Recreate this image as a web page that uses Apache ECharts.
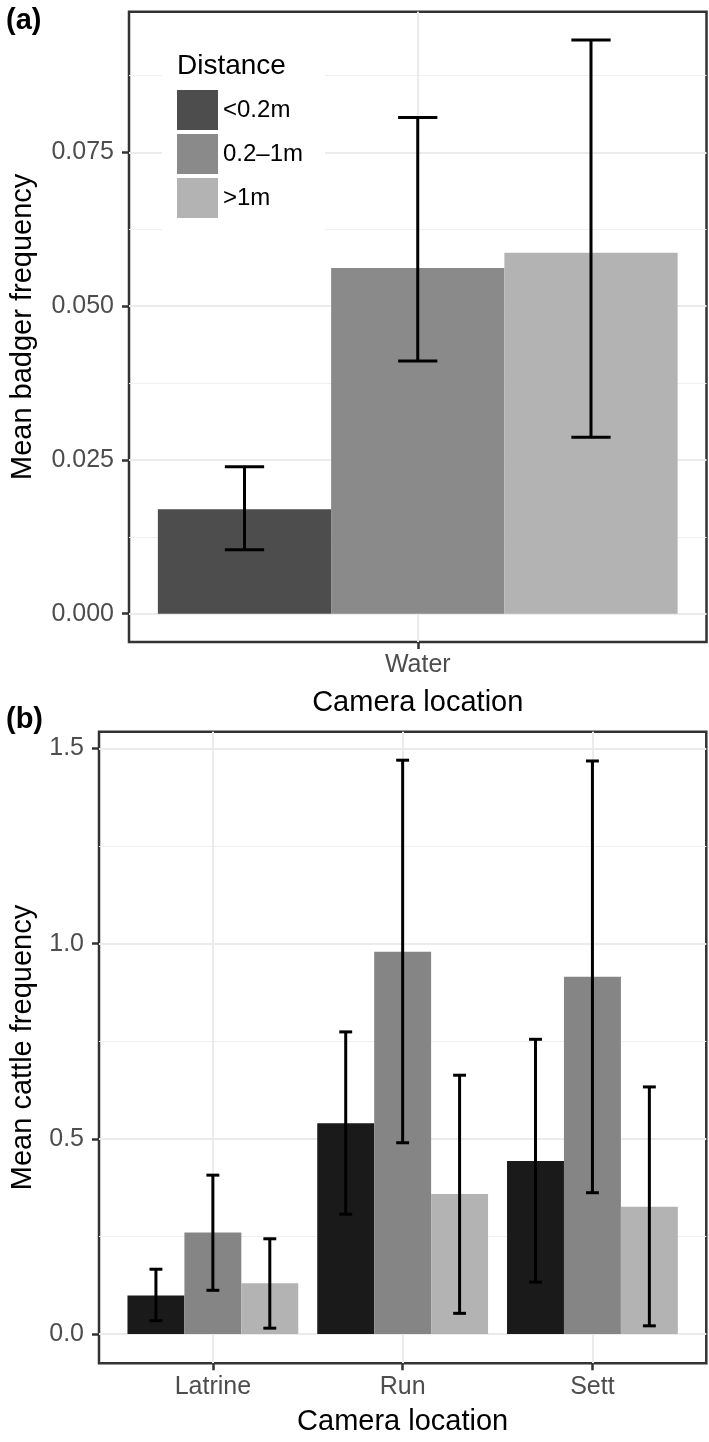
<!DOCTYPE html>
<html>
<head>
<meta charset="utf-8">
<script src="https://cdn.jsdelivr.net/npm/echarts@6/dist/echarts.min.js"></script>
<style>
  html, body { margin: 0; padding: 0; background: #fff; }
  #main { width: 709px; height: 1442px; }
</style>
</head>
<body>
<div id="main"></div>
<script>
// distance groups (legend)
var distances = ['<0.2m', '0.2–1m', '>1m'];

// (a) badgers, only one camera location
var badgerLocations = ['Water'];
var badgerMean = [0.0170, 0.0562, 0.0587];
var badgerLow  = [0.0104, 0.0411, 0.0287];
var badgerHigh = [0.0239, 0.0807, 0.0933];
var badgerTicks = [0, 0.025, 0.05, 0.075];
var badgerMinor = [0.0125, 0.0375, 0.0625, 0.0875];

// (b) cattle, rows = distance, cols = location
var cattleLocations = ['Latrine', 'Run', 'Sett'];
var cattleMean = [
  [0.099, 0.540, 0.443],
  [0.260, 0.979, 0.915],
  [0.130, 0.359, 0.326]
];
var cattleLow = [
  [0.034, 0.307, 0.133],
  [0.112, 0.490, 0.362],
  [0.015, 0.053, 0.021]
];
var cattleHigh = [
  [0.166, 0.774, 0.755],
  [0.407, 1.470, 1.468],
  [0.244, 0.663, 0.633]
];
var cattleTicks = [0, 0.5, 1.0, 1.5];
var cattleMinor = [0.25, 0.75, 1.25];

var colorsA = ['#4d4d4d', '#8a8a8a', '#b3b3b3'];
var colorsB = ['#1a1a1a', '#858585', '#b3b3b3'];
var FONT = 'Liberation Sans, Arial, sans-serif';

var myChart = echarts.init(document.getElementById('main'));

// 误差线: k = position inside the dodge group
function errorBar(k, capFrac) {
  return function (params, api) {
    var x = api.value(0);
    var band = api.size([1, 0])[0];
    var lo = api.coord([x, api.value(1)]);
    var hi = api.coord([x, api.value(2)]);
    var cx = lo[0] + (k - 1) * band * 0.3;
    var hw = band * capFrac / 2;
    var st = { stroke: '#000', lineWidth: 3 };
    return {
      type: 'group',
      children: [
        { type: 'line', shape: { x1: cx, y1: hi[1], x2: cx, y2: lo[1] }, style: st },
        { type: 'line', shape: { x1: cx - hw, y1: hi[1], x2: cx + hw, y2: hi[1] }, style: st },
        { type: 'line', shape: { x1: cx - hw, y1: lo[1], x2: cx + hw, y2: lo[1] }, style: st }
      ]
    };
  };
}

function idx(arr) { return arr.map(function (_, i) { return i + 1; }); }

function xAxisFor(grid, cats, min, max) {
  return {
    type: 'value', gridIndex: grid, min: min, max: max,
    name: 'Camera location', nameLocation: 'middle', nameGap: grid === 0 ? 46 : 44,
    nameTextStyle: { fontSize: 29, color: '#000', fontFamily: FONT },
    axisLine: { show: false, onZero: false },
    axisTick: { show: true, length: 7, customValues: idx(cats), lineStyle: { color: '#333', width: 2.5 } },
    axisLabel: {
      customValues: idx(cats), margin: 11, fontSize: 25, color: '#4d4d4d', fontFamily: FONT,
      formatter: function (v) { return cats[Math.round(v) - 1]; }
    },
    splitLine: { show: true, lineStyle: { color: '#ebebeb', width: 2 } }
  };
}

function yAxisFor(grid, name, gap, min, max, ticks, digits) {
  return {
    type: 'value', gridIndex: grid, min: min, max: max,
    name: name, nameLocation: 'middle', nameGap: gap,
    nameTextStyle: { fontSize: 29, color: '#000', fontFamily: FONT },
    axisLine: { show: false, onZero: false },
    axisTick: { show: true, length: 7, customValues: ticks, lineStyle: { color: '#333', width: 2.5 } },
    axisLabel: {
      customValues: ticks, margin: 15, fontSize: 25, color: '#4d4d4d', fontFamily: FONT,
      formatter: function (v) { return v.toFixed(digits); }
    },
    splitLine: { show: true, lineStyle: { color: '#ebebeb', width: 2 } }
  };
}

function minorAxisFor(grid, min, max, ticks) {
  return {
    type: 'value', gridIndex: grid, min: min, max: max,
    axisLine: { show: false, onZero: false },
    axisTick: { show: false, customValues: ticks },
    axisLabel: { show: false, customValues: ticks },
    splitLine: { show: true, lineStyle: { color: '#f0f0f0', width: 1 } }
  };
}

var series = [];
distances.forEach(function (d, k) {
  series.push({
    name: d, type: 'bar', xAxisIndex: 0, yAxisIndex: 0,
    barGap: '0%', barCategoryGap: '10%',
    itemStyle: { color: colorsA[k] },
    data: [[1, badgerMean[k]]]
  });
});
distances.forEach(function (d, k) {
  series.push({
    name: d + ' err', type: 'custom', xAxisIndex: 0, yAxisIndex: 0, z: 3,
    renderItem: errorBar(k, 0.068),
    data: [[1, badgerLow[k], badgerHigh[k]]]
  });
});
distances.forEach(function (d, k) {
  series.push({
    name: d, type: 'bar', xAxisIndex: 1, yAxisIndex: 2,
    barGap: '0%', barCategoryGap: '10%',
    itemStyle: { color: colorsB[k] },
    data: cattleLocations.map(function (c, j) { return [j + 1, cattleMean[k][j]]; })
  });
});
distances.forEach(function (d, k) {
  series.push({
    name: d + ' err b', type: 'custom', xAxisIndex: 1, yAxisIndex: 2, z: 3,
    renderItem: errorBar(k, 0.068),
    data: cattleLocations.map(function (c, j) { return [j + 1, cattleLow[k][j], cattleHigh[k][j]]; })
  });
});

var option = {
  animation: false,
  backgroundColor: '#fff',
  textStyle: { fontFamily: FONT },
  title: [
    { text: '(a)', left: 6, top: 6, padding: 0, textStyle: { fontSize: 29, fontWeight: 'bold', color: '#000', fontFamily: FONT } },
    { text: '(b)', left: 6, top: 705, padding: 0, textStyle: { fontSize: 29, fontWeight: 'bold', color: '#000', fontFamily: FONT } },
    { text: 'Distance', left: 177, top: 52, padding: 0, textStyle: { fontSize: 28, fontWeight: 'normal', color: '#000', fontFamily: FONT } }
  ],
  legend: {
    data: distances,
    orient: 'vertical',
    left: 162, top: 40,
    padding: [50, 22, 14, 15],
    itemWidth: 41, itemHeight: 40, itemGap: 4,
    icon: 'rect',
    backgroundColor: '#fff',
    selectedMode: false,
    textStyle: { fontSize: 24, color: '#000', fontFamily: FONT }
  },
  grid: [
    { left: 126.7, top: 11.7, width: 579.8, height: 630.3, show: true, borderColor: '#333', borderWidth: 2.5, backgroundColor: 'transparent' },
    { left: 96.7, top: 731.7, width: 609.6, height: 631.6, show: true, borderColor: '#333', borderWidth: 2.5, backgroundColor: 'transparent' }
  ],
  xAxis: [
    xAxisFor(0, badgerLocations, 0.5, 1.5),
    xAxisFor(1, cattleLocations, 0.4, 3.6)
  ],
  yAxis: [
    yAxisFor(0, 'Mean badger frequency', 92, -0.0046, 0.0979, badgerTicks, 3),
    minorAxisFor(0, -0.0046, 0.0979, badgerMinor),
    yAxisFor(1, 'Mean cattle frequency', 62, -0.075, 1.543, cattleTicks, 1),
    minorAxisFor(1, -0.075, 1.543, cattleMinor)
  ],
  series: series
};

myChart.setOption(option);
</script>
</body>
</html>
